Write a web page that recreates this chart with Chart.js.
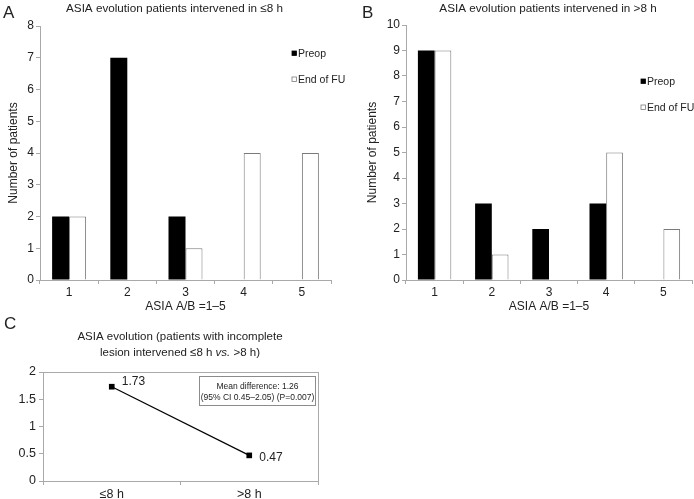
<!DOCTYPE html>
<html>
<head>
<meta charset="utf-8">
<script src="https://cdn.jsdelivr.net/npm/chart.js@4.4.1/dist/chart.umd.min.js"></script>
<style>
  body { margin: 0; background: #fff; width: 694px; height: 499px; position: relative; overflow: hidden; }
  canvas { position: absolute; }
</style>
</head>
<body>
<canvas id="chartA" width="360" height="320" style="left:0px;top:0px"></canvas>
<canvas id="chartB" width="349" height="320" style="left:345px;top:0px"></canvas>
<canvas id="chartC" width="345" height="189" style="left:0px;top:310px"></canvas>
<script>
const asiaGrades = ["1", "2", "3", "4", "5"];
const preopEarly = [2, 7, 2, 0, 0];
const endFuEarly = [2, 0, 1, 4, 4];
const preopLate = [9, 3, 2, 3, 0];
const endFuLate = [9, 1, 0, 5, 2];
const groupLabels = ["≤8 h", ">8 h"];
const meanAsiaChange = [1.73, 0.47];

const FONT = "'Liberation Sans', Arial, Helvetica, sans-serif";
const AXIS_GRAY = "#a9a9a9";
const TEXT = "#222";

Chart.defaults.font.family = FONT;
Chart.defaults.color = TEXT;

// draws titles, panel letters and the little legends
function textPlugin(id, drawFn) {
  return {
    id: id,
    afterDraw(chart) {
      const ctx = chart.ctx;
      ctx.save();
      ctx.fillStyle = TEXT;
      ctx.textBaseline = "middle";
      drawFn(ctx, chart);
      ctx.restore();
    },
  };
}

function drawLegend(ctx, chart, x, y, gap) {
  ctx.font = "10.5px " + FONT;
  ctx.textAlign = "left";
  chart.data.datasets.forEach((ds, i) => {
    const yy = y + i * gap;
    ctx.fillStyle = ds.backgroundColor;
    ctx.fillRect(x - 2, yy - 2, 4.5, 4.5);
    ctx.strokeStyle = ds.borderColor;
    ctx.lineWidth = 0.8;
    ctx.strokeRect(x - 2, yy - 2, 4.5, 4.5);
    ctx.fillStyle = TEXT;
    ctx.fillText(ds.label, x + 4, yy + 1);
  });
}

function barOptions(yMax, padLeft, padRight, yWidth) {
  return {
    responsive: false,
    animation: false,
    layout: { padding: { top: 0, left: padLeft, right: padRight, bottom: 0 } },
    plugins: { legend: { display: false }, tooltip: { enabled: false } },
    scales: {
      x: {
        offset: true,
        grid: { offset: true, drawOnChartArea: false, tickLength: 4, color: AXIS_GRAY },
        border: { color: AXIS_GRAY },
        ticks: { padding: 1, font: { size: 12 }, color: TEXT },
        title: { display: true, text: "ASIA A/B =1–5", font: { size: 12 }, padding: { top: 0, bottom: 6 }, color: TEXT },
        afterFit(scale) { scale.height = 40; },
      },
      y: {
        min: 0,
        max: yMax,
        ticks: { stepSize: 1, padding: 2, font: { size: 12 }, color: TEXT },
        grid: { drawOnChartArea: false, tickLength: 4, color: AXIS_GRAY },
        border: { color: AXIS_GRAY },
        title: { display: true, text: "Number of patients", font: { size: 12 }, padding: { top: 6, bottom: 0 }, color: TEXT },
        afterFit(scale) { scale.width = yWidth; },
      },
    },
  };
}

function barData(preop, endFu) {
  return {
    labels: asiaGrades,
    datasets: [
      {
        label: "Preop",
        data: preop,
        backgroundColor: "#000000",
        borderColor: "#000000",
        borderWidth: 0,
        categoryPercentage: 0.584,
        barPercentage: 1.0,
      },
      {
        label: "End of FU",
        data: endFu,
        backgroundColor: "#ffffff",
        borderColor: "#7a7a7a",
        borderWidth: 1,
        categoryPercentage: 0.584,
        barPercentage: 1.0,
      },
    ],
  };
}

document.addEventListener("DOMContentLoaded", function () {
  const ctxA = document.getElementById("chartA").getContext("2d");
  const ctxB = document.getElementById("chartB").getContext("2d");
  const ctxC = document.getElementById("chartC").getContext("2d");

  const optionsA = barOptions(8, 0, 29, 40);
  optionsA.layout.padding.top = 26;
  const chartA = new Chart(ctxA, {
    type: "bar",
    data: barData(preopEarly, endFuEarly),
    options: optionsA,
    plugins: [
      textPlugin("textA", function (ctx, chart) {
        ctx.font = "17px " + FONT;
        ctx.textAlign = "left";
        ctx.fillText("A", 3, 13);
        ctx.font = "11.7px " + FONT;
        ctx.textAlign = "center";
        ctx.fillText("ASIA evolution patients intervened in ≤8 h", 174.5, 9);
        drawLegend(ctx, chart, 294, 53, 26);
      }),
    ],
  });

  const optionsB = barOptions(10, 14, 2, 47);
  optionsB.layout.padding.top = 25;
  const chartB = new Chart(ctxB, {
    type: "bar",
    data: barData(preopLate, endFuLate),
    options: optionsB,
    plugins: [
      textPlugin("textB", function (ctx, chart) {
        ctx.font = "17px " + FONT;
        ctx.textAlign = "left";
        ctx.fillText("B", 17, 13);
        ctx.font = "11.7px " + FONT;
        ctx.textAlign = "center";
        ctx.fillText("ASIA evolution patients intervened in >8 h", 203, 9);
        drawLegend(ctx, chart, 298, 81, 26);
      }),
    ],
  });

  const chartC = new Chart(ctxC, {
    type: "line",
    data: {
      labels: groupLabels,
      datasets: [
        {
          label: "Mean ASIA change",
          data: meanAsiaChange,
          borderColor: "#000000",
          borderWidth: 1.2,
          backgroundColor: "#000000",
          pointStyle: "rect",
          pointRadius: 4,
          pointBorderWidth: 0,
          tension: 0,
        },
      ],
    },
    options: {
      responsive: false,
      animation: false,
      layout: { padding: { top: 62, left: 0, right: 27, bottom: 0 } },
      plugins: { legend: { display: false }, tooltip: { enabled: false } },
      scales: {
        x: {
          offset: true,
          grid: { offset: true, drawOnChartArea: false, tickLength: 4, color: AXIS_GRAY },
          border: { color: AXIS_GRAY },
          ticks: { padding: 2, font: { size: 12.5 }, color: TEXT },
          afterFit(scale) { scale.height = 18; },
        },
        y: {
          min: 0,
          max: 2,
          ticks: {
            stepSize: 0.5,
            padding: 3,
            font: { size: 12.5 },
            color: TEXT,
            callback: (value) => String(value),
          },
          grid: { drawOnChartArea: false, tickLength: 4, color: AXIS_GRAY },
          border: { color: AXIS_GRAY },
          afterFit(scale) { scale.width = 43; },
        },
      },
    },
    plugins: [
      textPlugin("textC", function (ctx, chart) {
        const area = chart.chartArea;
        ctx.strokeStyle = AXIS_GRAY;
        ctx.lineWidth = 1;
        ctx.strokeRect(area.left + 0.5, area.top + 0.5, area.right - area.left, area.bottom - area.top);

        ctx.font = "17px " + FONT;
        ctx.textAlign = "left";
        ctx.fillText("C", 4, 14);

        ctx.font = "11.5px " + FONT;
        ctx.textAlign = "center";
        ctx.fillText("ASIA evolution (patients with incomplete", 180, 27);
        const partA = "lesion intervened ≤8 h ";
        const partB = "vs.";
        const partC = " >8 h)";
        const wA = ctx.measureText(partA).width;
        const wC = ctx.measureText(partC).width;
        ctx.font = "italic 11.5px " + FONT;
        const wB = ctx.measureText(partB).width;
        let x = 180 - (wA + wB + wC) / 2;
        ctx.textAlign = "left";
        ctx.font = "11.5px " + FONT;
        ctx.fillText(partA, x, 43);
        ctx.font = "italic 11.5px " + FONT;
        ctx.fillText(partB, x + wA, 43);
        ctx.font = "11.5px " + FONT;
        ctx.fillText(partC, x + wA + wB, 43);

        // value labels beside the points
        const meta = chart.getDatasetMeta(0);
        ctx.font = "12px " + FONT;
        meta.data.forEach((pt, i) => {
          const dy = i === 0 ? -5 : 2;
          ctx.fillText(meanAsiaChange[i].toFixed(2), pt.x + 10, pt.y + dy);
        });

        // stats box
        ctx.fillStyle = "#fff";
        ctx.fillRect(199.5, 66.5, 116, 29);
        ctx.strokeStyle = "#8c8c8c";
        ctx.strokeRect(199.5, 66.5, 116, 29);
        ctx.fillStyle = TEXT;
        ctx.font = "8.5px " + FONT;
        ctx.textAlign = "center";
        ctx.fillText("Mean difference: 1.26", 257.5, 77);
        ctx.fillText("(95% CI 0.45–2.05) (P=0.007)", 257.5, 87.5);
      }),
    ],
  });
});
</script>
</body>
</html>
